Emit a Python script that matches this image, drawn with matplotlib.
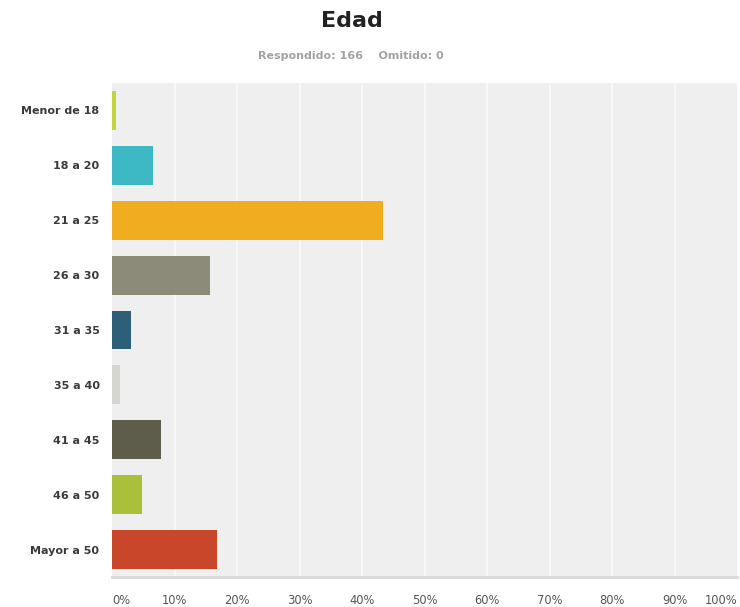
import matplotlib
matplotlib.use("Agg")
import matplotlib.pyplot as plt

# Age distribution of respondents (percent of 166)
categories = ["Menor de 18", "18 a 20", "21 a 25", "26 a 30", "31 a 35",
              "35 a 40", "41 a 45", "46 a 50", "Mayor a 50"]
percentages = [0.60, 6.63, 43.37, 15.66, 3.01, 1.20, 7.83, 4.82, 16.87]
bar_colors = ["#c3d43c", "#3cb9c5", "#f0ad1f", "#8c8b79", "#2d6078",
              "#d6d6d0", "#5e5c4a", "#aac03a", "#c8472b"]
tick_values = list(range(0, 101, 10))
tick_labels = [f"{v}%" for v in tick_values]

plt.rcParams["font.family"] = ["DejaVu Sans"]

fig = plt.figure(figsize=(7.40, 6.07), dpi=100)
ax = fig.add_axes([112 / 740, 30 / 607, 625 / 740, 494 / 607])
ax.set_facecolor("#efefef")

ypos = list(range(len(categories)))
ax.barh(ypos, percentages, height=0.71, color=bar_colors, zorder=3)

ax.set_xlim(0, 100)
ax.set_ylim(len(categories) - 0.5, -0.5)

for v in tick_values[1:-1]:
    ax.axvline(v, color="#f8f8f8", lw=1.6, zorder=1)

ax.set_yticks(ypos)
ax.set_yticklabels(categories, fontsize=8, fontweight="bold", color="#3a3a3a")
ax.set_xticks(tick_values)
ax.set_xticklabels(tick_labels, fontsize=8.3, color="#555555")
xl = ax.get_xticklabels()
xl[0].set_horizontalalignment("left")
xl[-1].set_horizontalalignment("right")
ax.tick_params(axis="both", length=0)
ax.tick_params(axis="y", pad=9)
ax.tick_params(axis="x", pad=12)

for side in ("top", "right", "left"):
    ax.spines[side].set_visible(False)
ax.spines["bottom"].set_color("#d9d9d9")
ax.spines["bottom"].set_linewidth(2)

fig.text(352 / 740, 1 - 21 / 607, "Edad", ha="center", va="center",
         fontsize=16, fontweight="bold", color="#222222")
fig.text(351 / 740, 1 - 56 / 607, "Respondido: 166    Omitido: 0",
         ha="center", va="center", fontsize=8, fontweight="bold",
         color="#a3a3a3")

fig.savefig("out.png", dpi=100, facecolor="white")
